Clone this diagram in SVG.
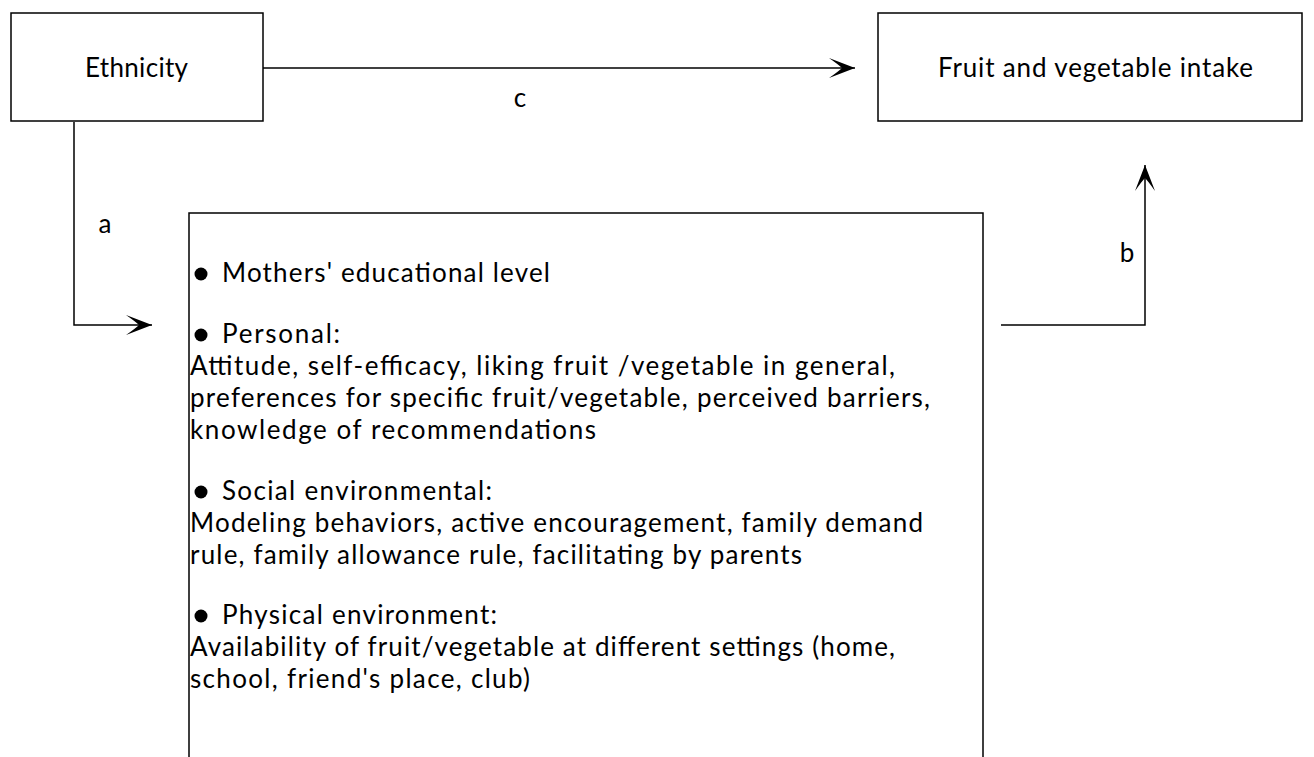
<svg xmlns="http://www.w3.org/2000/svg" width="1314" height="757" viewBox="0 0 1314 757">
<style>
.box{fill:#fff;stroke:#000;stroke-width:1.5}
.t{font-family:Lato,"Open Sans","Liberation Sans",sans-serif;font-size:26px;fill:#000}
.c{stroke:#000;stroke-width:1.5;fill:none}
</style>
<defs>
<marker id="ah" markerUnits="userSpaceOnUse" markerWidth="30" markerHeight="24" refX="0" refY="0" viewBox="-28 -12 30 24" orient="auto">
<path d="M0,0 L-26,-10 Q-16,-3 -13,0 Q-16,3 -26,10 Z" fill="#000"/>
</marker>
</defs>
<rect width="1314" height="757" fill="#fff"/>
<g id="connectors">
<path class="c" d="M263,68 H855" marker-end="url(#ah)"/>
<path class="c" d="M74,122 V325 H152" marker-end="url(#ah)"/>
<path class="c" d="M1001,325 H1145 V165" marker-end="url(#ah)"/>
<text class="t" x="520" y="107" text-anchor="middle">c</text>
<text class="t" x="105" y="233" text-anchor="middle">a</text>
<text class="t" x="1127" y="262" text-anchor="middle">b</text>
</g>
<g id="ethnicity">
<rect class="box" x="11" y="13" width="252" height="108"/>
<text class="t" x="85" y="77" font-size="23" textLength="103" lengthAdjust="spacing">Ethnicity</text>
</g>
<g id="intake">
<rect class="box" x="878" y="13" width="424" height="108"/>
<text class="t" x="938" y="77" font-size="23" textLength="315" lengthAdjust="spacing">Fruit and vegetable intake</text>
</g>
<g id="factors">
<path class="box" d="M189,760 V213 H983 V760"/>
<circle cx="201" cy="274" r="6.5"/>
<text class="t" x="222" y="282" textLength="328" lengthAdjust="spacing">Mothers' educational level</text>
<circle cx="201" cy="335" r="6.5"/>
<text class="t" x="222" y="343" textLength="118" lengthAdjust="spacing">Personal:</text>
<text class="t" x="190" y="375" textLength="705" lengthAdjust="spacing">Attitude, self-efficacy, liking fruit /vegetable in general,</text>
<text class="t" x="190" y="407" textLength="740" lengthAdjust="spacing">preferences for specific fruit/vegetable, perceived barriers,</text>
<text class="t" x="190" y="439" textLength="406" lengthAdjust="spacing">knowledge of recommendations</text>
<circle cx="201" cy="492" r="6.5"/>
<text class="t" x="222" y="500" textLength="270" lengthAdjust="spacing">Social environmental:</text>
<text class="t" x="190" y="532" textLength="733" lengthAdjust="spacing">Modeling behaviors, active encouragement, family demand</text>
<text class="t" x="190" y="564" textLength="612" lengthAdjust="spacing">rule, family allowance rule, facilitating by parents</text>
<circle cx="201" cy="616" r="6.5"/>
<text class="t" x="222" y="624" textLength="275" lengthAdjust="spacing">Physical environment:</text>
<text class="t" x="190" y="656" textLength="705" lengthAdjust="spacing">Availability of fruit/vegetable at different settings (home,</text>
<text class="t" x="190" y="688" textLength="340" lengthAdjust="spacing">school, friend's place, club)</text>
</g>
</svg>
